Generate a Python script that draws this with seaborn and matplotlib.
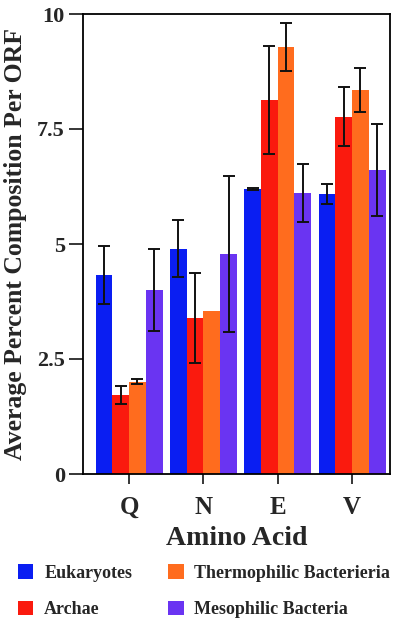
import numpy as np
import pandas as pd
import matplotlib
matplotlib.use("Agg")
import matplotlib.pyplot as plt
from matplotlib.patches import Patch
import seaborn as sns

# data
acids = ["Q", "N", "E", "V"]
groups = ["Eukaryotes", "Archae", "Thermophilic Bacterieria", "Mesophilic Bacteria"]
eukaryotes = [4.33, 4.90, 6.20, 6.09]
archae = [1.72, 3.39, 8.13, 7.77]
thermophilic = [2.01, 3.54, 9.28, 8.35]
mesophilic = [4.00, 4.78, 6.10, 6.60]
eukaryotes_err = [0.63, 0.62, 0.02, 0.21]
archae_err = [0.20, 0.98, 1.17, 0.64]
thermophilic_err = [0.05, np.nan, 0.52, 0.47]
mesophilic_err = [0.90, 1.69, 0.63, 1.00]
colors = ["#0a1ef2", "#fa1a0e", "#ff6c1e", "#6a34f2"]

values = [eukaryotes, archae, thermophilic, mesophilic]
errors = [eukaryotes_err, archae_err, thermophilic_err, mesophilic_err]

rows = []
for g, vals in zip(groups, values):
    for a, v in zip(acids, vals):
        rows.append({"acid": a, "group": g, "value": v})
df = pd.DataFrame(rows)

sns.set_style("ticks")
plt.rcParams["font.family"] = ["Liberation Serif", "DejaVu Serif"]
plt.rcParams["font.weight"] = "bold"

fig = plt.figure(figsize=(4, 6.25), dpi=100)
ax = fig.add_axes([0.2075, 0.2416, 0.7675, 0.736])

sns.barplot(data=df, x="acid", y="value", hue="group", order=acids,
            hue_order=groups, palette=colors, width=0.9, saturation=1,
            errorbar=None, legend=False, linewidth=0, ax=ax)

# error bars at each bar centre
for cont, errs in zip(ax.containers, errors):
    xs = [b.get_x() + b.get_width() / 2 for b in cont]
    ys = [b.get_height() for b in cont]
    ax.errorbar(xs, ys, yerr=errs, fmt="none", ecolor="#111111",
                elinewidth=1.4, capsize=4, capthick=1.4)

ax.set_ylim(0, 10)
ax.set_xlim(-0.62, 3.51)
ax.set_yticks([0, 2.5, 5, 7.5, 10])
ax.set_yticklabels(["0", "2.5", "5", "7.5", "10"])
for s in ax.spines.values():
    s.set_visible(True)
    s.set_linewidth(1.3)
    s.set_color("black")
ax.tick_params(axis="y", direction="out", length=10, width=1.3, labelsize=16, pad=3)
ax.tick_params(axis="x", direction="out", length=7, width=1.3, labelsize=18, pad=9)
for lab in ax.get_xticklabels() + ax.get_yticklabels():
    lab.set_fontweight("bold")

ax.set_xlabel("Amino Acid", fontsize=20, fontweight="bold", labelpad=5)
ax.set_ylabel("Average Percent Composition Per ORF", fontsize=18.5,
              fontweight="bold", labelpad=7)

handles = [Patch(facecolor=c, edgecolor="none") for c in colors]
fig.legend(handles, groups, loc="upper left", bbox_to_anchor=(0.045, 0.097),
           ncol=2, frameon=False, prop={"size": 13, "weight": "bold"},
           handlelength=0.85, handleheight=0.85, handletextpad=0.6,
           columnspacing=2.0, labelspacing=1.05, borderaxespad=0,
           borderpad=0)

fig.savefig("out.png", dpi=100)
